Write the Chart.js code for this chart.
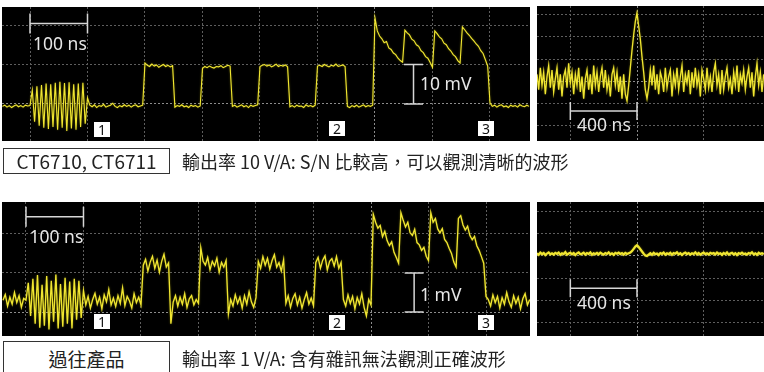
<!DOCTYPE html>
<html>
<head>
<meta charset="utf-8">
<script src="https://cdn.jsdelivr.net/npm/chart.js@4.4.1/dist/chart.umd.min.js"></script>
<style>
  body { margin: 0; width: 764px; height: 372px; background: #fff; position: relative; overflow: hidden; font-family: "Noto Sans", sans-serif; }
  .scope { position: absolute; background: #000; }
  .scope canvas { display: block; }
  .lbl { position: absolute; color: #e6e6e6; font-size: 17.5px; line-height: 1; white-space: nowrap; }
  .num { position: absolute; width: 16px; height: 15px; background: #fff; color: #111; font-size: 14px; line-height: 15px; text-align: center; }
  .cap { position: absolute; left: 3px; width: 165px; border: 1px solid #333; text-align: center; font-family: "Noto Sans CJK TC", sans-serif; font-size: 19px; color: #222; }
  .desc { position: absolute; left: 182px; font-family: "Noto Sans CJK TC", sans-serif; font-size: 18px; color: #222; white-space: nowrap; }
</style>
</head>
<body>
<div class="scope" style="left:2px;top:7px"><canvas id="tl" width="528" height="134"></canvas></div>
<div class="scope" style="left:537px;top:6px"><canvas id="tr" width="227" height="135"></canvas></div>
<div class="scope" style="left:2px;top:202px"><canvas id="bl" width="528" height="134"></canvas></div>
<div class="scope" style="left:537px;top:202px"><canvas id="br" width="227" height="134"></canvas></div>

<span class="lbl" style="left:33px;top:34.5px">100 ns</span>
<span class="lbl" style="left:420px;top:75px">10 mV</span>
<span class="lbl" style="left:577px;top:115.5px">400 ns</span>
<span class="lbl" style="left:29.5px;top:228px">100 ns</span>
<span class="lbl" style="left:420px;top:285.5px">1 mV</span>
<span class="lbl" style="left:577px;top:293.5px">400 ns</span>

<span class="num" style="left:94px;top:122px">1</span>
<span class="num" style="left:329px;top:121px">2</span>
<span class="num" style="left:478px;top:121px">3</span>
<span class="num" style="left:94px;top:314px">1</span>
<span class="num" style="left:329px;top:315px">2</span>
<span class="num" style="left:478px;top:315px">3</span>

<div class="cap" style="top:148px;height:24px;line-height:24px">CT6710, CT6711</div>
<div class="desc" style="top:148px;line-height:27px">輸出率 10 V/A: S/N 比較高，可以觀測清晰的波形</div>
<div class="cap" style="top:341px;height:40px;line-height:34px">過往產品</div>
<div class="desc" style="top:341px;line-height:34px">輸出率 1 V/A: 含有雜訊無法觀測正確波形</div>

<script>
// sample interval of the scope captures (ns)
const fastStep = 4;
const slowStep = 10;

// top-left: output 10 V/A, mV, first sample at -48 ns
const tlStart = -48;
const tlVolts = [
  -0.6,-0.3,-0.8,-0.4,-0.9,-0.5,-0.2,-0.7,-0.4,-0.8,-0.3,-0.5,          // -48
  -0.4,3.5,-4.5,4.5,-5.5,4.8,-6.0,5.2,-6.3,5.0,-5.8,5.4,-6.5,5.6,-6.0,  // 0 burst
  5.3,-6.8,5.5,-6.2,5.0,-6.5,5.2,-5.8,5.4,-5.0,1.5,
  -0.3,-0.7,-0.2,-0.9,-0.4,-0.6,-0.1,-0.8,-0.5,-0.3,0.2,-0.6,           // 104
  -0.9,-0.4,-0.7,-0.2,-0.6,-0.3,-0.8,-0.4,-0.2,-0.7,-0.5,-0.3,
  10.4,9.8,9.5,10.1,9.6,9.9,9.3,9.7,10.0,9.5,9.8,9.4,9.7,               // 200
  -0.8,-0.4,-0.6,-0.2,-0.7,-0.5,-0.9,-0.3,-0.6,-0.4,-0.8,-0.5,          // 252
  9.0,9.5,9.2,9.6,9.3,9.1,9.5,9.4,9.7,9.2,9.5,9.8,9.6,                  // 300
  -0.6,-0.3,-0.8,-0.5,-0.2,-0.7,-0.4,-0.9,-0.3,-0.6,-0.4,-0.2,          // 352
  9.5,9.8,10.0,9.6,9.9,9.4,9.7,10.1,9.5,9.8,9.6,9.9,9.4,                // 400
  -0.7,-0.4,-0.8,-0.3,-0.6,-0.5,-0.9,-0.2,-0.6,-0.4,-0.7,-0.3,          // 452
  9.6,9.8,9.5,10.0,9.7,9.4,9.8,9.6,10.1,9.5,9.7,9.9,9.5,                // 500
  -0.6,-0.9,-0.4,-0.7,-0.3,-0.8,-0.5,-0.2,-0.7,-0.4,-0.6,-0.3,          // 552
  21.8,18.5,17.2,16.5,15.5,15.8,14.2,13.8,12.9,12.5,11.6,11.0,10.6,     // 600
  18.7,18.0,17.5,16.4,16.0,15.0,14.6,13.5,13.0,12.0,11.6,10.5,9.3,      // 652
  18.5,17.8,17.0,16.5,15.4,15.0,14.0,13.4,12.5,12.0,11.0,10.4,          // 704
  19.5,18.8,18.0,17.4,16.6,16.0,15.2,14.6,13.5,12.8,11.2,9.6,           // 752
  0.3,-0.6,-0.3,-0.8,-0.4,-0.2,-0.7,-0.5,-0.9,-0.3,-0.6,-0.4,           // 800
  -0.8,-0.2,-0.5,-0.7,-0.3,-0.6
];

// bottom-left: older product 1 V/A, mV, first sample at -40 ns
const blStart = -40;
const blVolts = [
  0.30,0.45,0.15,0.38,0.20,0.50,0.24,0.42,0.12,0.35,                    // -40
  0.30,0.75,-0.10,0.85,-0.30,0.95,-0.40,0.70,-0.35,0.92,-0.45,0.80,-0.25, // 0 burst
  0.96,-0.42,0.72,-0.38,0.88,-0.30,0.78,-0.42,0.85,-0.20,0.80,-0.15,0.55,
  0.18,0.40,0.10,0.32,0.48,0.20,0.38,0.08,0.44,0.26,0.58,0.18,0.36,     // 104
  0.14,0.42,0.22,0.62,0.16,0.40,0.28,0.10,0.47,0.24,0.38,0.18,
  1.20,1.35,1.05,1.28,1.43,1.12,1.33,1.02,1.30,1.48,1.15,1.26,          // 204
  -0.30,0.25,0.42,0.15,0.38,0.20,0.47,0.12,0.34,0.42,0.18,0.32,0.22,    // 252
  1.65,1.30,1.20,1.40,1.08,1.30,1.18,1.38,1.02,1.27,1.15,1.32,          // 304
  -0.05,0.32,0.15,0.44,0.22,0.38,0.10,0.42,0.20,0.52,0.26,0.12,0.37,    // 352
  1.30,1.12,1.42,1.20,1.38,1.10,1.32,1.47,1.15,1.27,1.05,1.34,          // 404
  0.22,0.42,0.12,0.35,0.47,0.18,0.38,0.10,0.32,0.50,0.20,0.36,0.16,     // 452
  1.27,1.40,1.12,1.33,1.44,1.08,1.30,1.37,1.18,1.42,1.12,1.27,          // 504
  0.32,0.15,0.44,0.22,0.40,0.08,0.37,0.20,0.47,0.12,-0.10,0.32,0.18,    // 552
  2.50,2.30,2.15,2.22,1.93,2.07,1.83,1.70,1.80,1.53,1.40,1.25,          // 604
  2.55,2.35,2.18,2.30,2.03,1.96,2.12,1.78,1.72,1.58,1.66,1.43,1.32,     // 652
  2.55,2.30,2.40,2.13,2.03,2.14,1.86,1.78,1.63,1.50,1.28,1.15,          // 704
  2.40,2.47,2.23,2.10,2.20,1.96,1.85,1.94,1.70,1.58,1.42,1.25,0.40,     // 752
  0.32,0.15,0.44,0.24,0.40,0.10,0.37,0.20,0.50,0.26,0.12,0.42,0.22,     // 804
  0.38,0.08,0.34,0.47,0.18,0.32
];

// top-right: 10 V/A single pulse, divisions, first sample at -600 ns
const trStart = -600;
const trDivs = [
  0.3,-0.4,0.6,-0.2,0.4,-0.6,0.2,0.7,-0.3,0.5,
  -0.5,0.1,0.6,-0.4,0.3,-0.7,0.2,0.5,-0.3,0.8,
  -0.1,0.4,-0.6,0.3,-0.2,0.6,-0.5,0.2,-0.8,0.1,
  0.5,-0.4,0.3,-0.6,0.7,-0.2,0.4,-0.5,0.2,0.6,
  -0.3,0.5,-0.4,0.1,-0.7,0.3,0.6,-0.2,0.4,-0.5,
  0.2,-0.8,0.3,-0.6,
  -0.9,-0.2,0.6,1.4,2.1,2.7,3.1,2.5,1.9,1.1,0.4,-0.4,-0.8,              // -60 .. 60 pulse
  -0.3,0.5,-0.2,0.7,-0.4,0.3,-0.6,0.4,0.1,-0.5,
  0.6,-0.3,0.2,0.5,-0.7,0.3,-0.2,0.6,-0.4,0.2,
  0.7,-0.5,0.3,-0.1,0.5,-0.6,0.4,-0.3,0.6,-0.2,
  0.3,-0.7,0.5,0.1,-0.4,0.6,-0.3,0.2,-0.5,0.4,
  0.8,-0.2,0.3,-0.6,0.5,-0.4,0.2,0.6,-0.3,0.1,
  -0.6,0.4,-0.2,0.7,-0.5,0.3,-0.1,0.5,-0.4,0.2,
  0.6,-0.3,0.4,-0.7,0.2,0.8,-0.2,0.4,-0.5,0.3
];

// bottom-right: 1 V/A single pulse, divisions, first sample at -600 ns
const brStart = -600;
const brDivs = [
  0.12,0.05,0.15,0.08,0.13,0.04,0.11,0.16,0.07,0.12,
  0.06,0.14,0.09,0.15,0.05,0.12,0.08,0.17,0.06,0.11,
  0.14,0.07,0.13,0.04,0.12,0.16,0.08,0.10,0.15,0.06,
  0.13,0.09,0.16,0.05,0.12,0.08,0.14,0.07,0.15,0.10,
  0.06,0.13,0.09,0.16,0.07,0.12,0.05,0.14,0.10,0.15,
  0.08,0.13,0.06,0.14,0.09,0.12,
  0.15,0.22,0.32,0.42,0.48,0.40,0.30,0.20,0.10,0.02,0.00,               // -40 .. 60 pulse
  0.06,0.12,0.05,0.14,0.08,0.11,0.04,0.13,0.09,0.15,
  0.06,0.12,0.08,0.14,0.05,0.13,0.10,0.16,0.07,0.12,
  0.04,0.11,0.15,0.08,0.13,0.06,0.12,0.09,0.16,0.07,
  0.13,0.05,0.11,0.15,0.08,0.12,0.06,0.14,0.10,0.13,
  0.07,0.15,0.09,0.12,0.05,0.13,0.08,0.16,0.06,0.11,
  0.14,0.07,0.12,0.04,0.13,0.09,0.15,0.08,0.11,0.06,
  0.13,0.10,0.16,0.07,0.12,0.05,0.14,0.09,0.12,0.08
];

// graticule lines
const leftGridX = [0, 100, 200, 300, 400, 500, 600, 700, 800];
const tlGridY = [0, 10, 20];
const blGridY = [0, 1, 2];
const rightGridX = [-400, 0, 400];
const trGridY = [-2, -1, 0, 1, 2, 3];
const brGridY = [-3, -2, -1, 0, 1, 2];

const traceColor = 'rgb(240,230,50)';

// soft glow like the scope phosphor
const glow = {
  id: 'glow',
  beforeDatasetsDraw(chart) {
    chart.ctx.save();
    chart.ctx.shadowColor = 'rgba(170,160,0,0.6)';
    chart.ctx.shadowBlur = 2;
  },
  afterDatasetsDraw(chart) { chart.ctx.restore(); }
};

function bracketPlugin(list) {
  return {
    id: 'brackets',
    afterDraw(chart) {
      const { ctx, scales: { x, y } } = chart;
      ctx.save();
      ctx.strokeStyle = '#d6d6d6';
      ctx.lineWidth = 1.5;
      list.forEach(b => {
        ctx.beginPath();
        if (b.dir === 'h') {
          const x0 = x.getPixelForValue(b.from), x1 = x.getPixelForValue(b.to), yy = y.getPixelForValue(b.at);
          ctx.moveTo(x0, yy); ctx.lineTo(x1, yy);
          ctx.moveTo(x0, yy - b.cap); ctx.lineTo(x0, yy + b.cap);
          ctx.moveTo(x1, yy - b.cap); ctx.lineTo(x1, yy + b.cap);
        } else {
          const y0 = y.getPixelForValue(b.from), y1 = y.getPixelForValue(b.to), xx = x.getPixelForValue(b.at);
          ctx.moveTo(xx, y0); ctx.lineTo(xx, y1);
          ctx.moveTo(xx - b.cap, y0); ctx.lineTo(xx + b.cap, y0);
          ctx.moveTo(xx - b.cap, y1); ctx.lineTo(xx + b.cap, y1);
        }
        ctx.stroke();
      });
      ctx.restore();
    }
  };
}

function axis(min, max, lines, center) {
  return {
    type: 'linear',
    min: min,
    max: max,
    afterBuildTicks: s => { s.ticks = lines.map(v => ({ value: v })); },
    ticks: { display: false },
    border: { display: false, dash: [2, 2] },
    grid: {
      drawTicks: false,
      lineWidth: 1,
      color: c => (c.tick && c.tick.value === center) ? '#8c8c8c' : '#5e5e5e'
    }
  };
}

function makeScope(id, cfg) {
  const pts = cfg.values.map((v, i) => ({ x: cfg.start + i * cfg.step, y: v }));
  return new Chart(document.getElementById(id), {
    type: 'line',
    data: {
      datasets: [{
        data: pts,
        borderColor: traceColor,
        borderWidth: cfg.lw,
        pointRadius: 0,
        tension: 0
      }]
    },
    options: {
      responsive: false,
      animation: false,
      events: [],
      layout: { padding: 0 },
      plugins: { legend: { display: false }, tooltip: { enabled: false } },
      scales: {
        x: axis(cfg.x[0], cfg.x[1], cfg.gridX, cfg.centerX),
        y: axis(cfg.y[0], cfg.y[1], cfg.gridY, 0)
      }
    },
    plugins: [glow, bracketPlugin(cfg.brackets)]
  });
}

makeScope('tl', {
  start: tlStart, step: fastStep, values: tlVolts, lw: 1.1,
  x: [-48.7, 869.6], y: [-9.37, 24.56], gridX: leftGridX, gridY: tlGridY, centerX: 600,
  brackets: [
    { dir: 'h', from: 0, to: 100, at: 20.4, cap: 10 },
    { dir: 'v', from: 0, to: 10, at: 667, cap: 9.5 }
  ]
});

makeScope('bl', {
  start: blStart, step: fastStep, values: blVolts, lw: 1.3,
  x: [-41.7, 876.5], y: [-0.615, 2.82], gridX: leftGridX, gridY: blGridY, centerX: 600,
  brackets: [
    { dir: 'h', from: 0, to: 100, at: 2.44, cap: 10 },
    { dir: 'v', from: 0, to: 1, at: 675, cap: 9.5 }
  ]
});

makeScope('tr', {
  start: trStart, step: slowStep, values: trDivs, lw: 1.3,
  x: [-600, 762], y: [-2.727, 3.409], gridX: rightGridX, gridY: trGridY, centerX: 0,
  brackets: [{ dir: 'h', from: -400, to: 0, at: -1.36, cap: 9 }]
});

makeScope('br', {
  start: brStart, step: slowStep, values: brDivs, lw: 2.2,
  x: [-600, 762], y: [-3.59, 2.42], gridX: rightGridX, gridY: brGridY, centerX: 0,
  brackets: [{ dir: 'h', from: -400, to: 0, at: -1.45, cap: 9 }]
});
</script>
</body>
</html>
